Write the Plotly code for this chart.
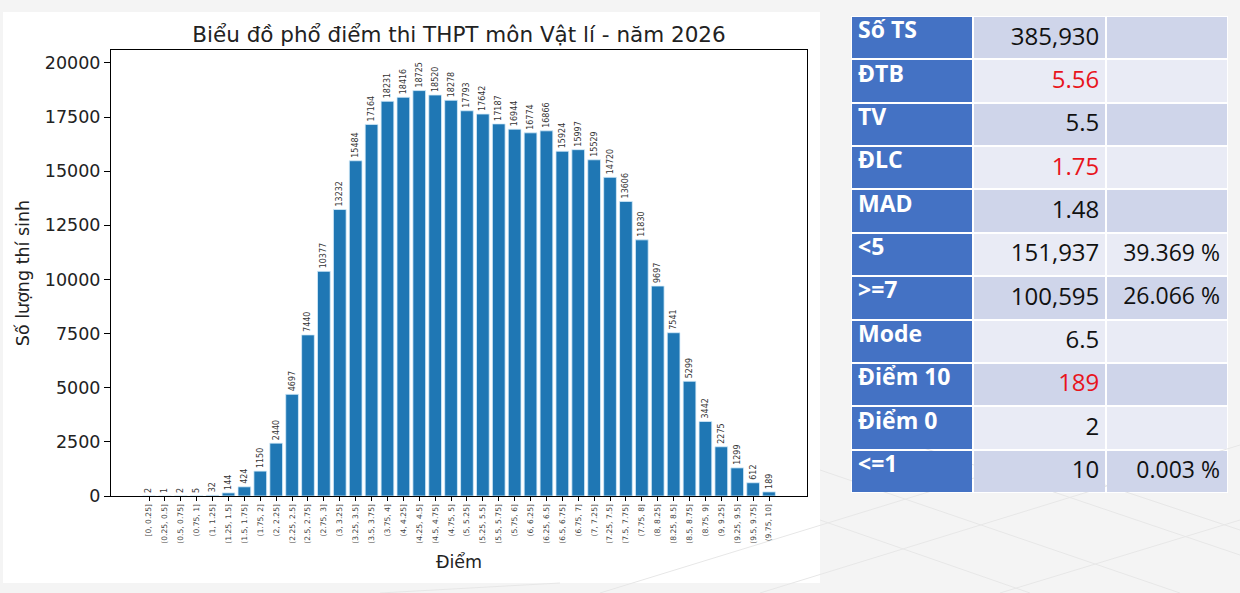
import plotly.graph_objects as go

# score bins (tick labels) and number of candidates per bin
bins = ["[0, 0.25]", "(0.25, 0.5]", "(0.5, 0.75]", "(0.75, 1]", "(1, 1.25]",
        "(1.25, 1.5]", "(1.5, 1.75]", "(1.75, 2]", "(2, 2.25]", "(2.25, 2.5]",
        "(2.5, 2.75]", "(2.75, 3]", "(3, 3.25]", "(3.25, 3.5]", "(3.5, 3.75]",
        "(3.75, 4]", "(4, 4.25]", "(4.25, 4.5]", "(4.5, 4.75]", "(4.75, 5]",
        "(5, 5.25]", "(5.25, 5.5]", "(5.5, 5.75]", "(5.75, 6]", "(6, 6.25]",
        "(6.25, 6.5]", "(6.5, 6.75]", "(6.75, 7]", "(7, 7.25]", "(7.25, 7.5]",
        "(7.5, 7.75]", "(7.75, 8]", "(8, 8.25]", "(8.25, 8.5]", "(8.5, 8.75]",
        "(8.75, 9]", "(9, 9.25]", "(9.25, 9.5]", "(9.5, 9.75]", "(9.75, 10]"]
counts = [2, 1, 2, 5, 32, 144, 424, 1150, 2440, 4697,
          7440, 10377, 13232, 15484, 17164, 18231, 18416, 18725, 18520, 18278,
          17793, 17642, 17187, 16944, 16774, 16866, 15924, 15997, 15529, 14720,
          13606, 11830, 9697, 7541, 5299, 3442, 2275, 1299, 612, 189]
y_ticks = [0, 2500, 5000, 7500, 10000, 12500, 15000, 17500, 20000]

# summary table
stat_names = ["Số TS", "ĐTB", "TV", "ĐLC", "MAD", "&lt;5", "&gt;=7", "Mode",
              "Điểm 10", "Điểm 0", "&lt;=1"]
stat_values = ["385,930", "5.56", "5.5", "1.75", "1.48", "151,937", "100,595",
               "6.5", "189", "2", "10"]
stat_pcts = ["", "", "", "", "", "39.369 %", "26.066 %", "", "", "", "0.003 %"]
red_rows = ["ĐTB", "ĐLC", "Điểm 10"]

W, H = 1240, 593
def px_x(v):
    return v / W
def px_y(v):
    return 1 - v / H

fig = go.Figure()

# histogram bars
fig.add_trace(go.Bar(
    x=list(range(len(bins))), y=counts, width=0.8,
    marker_color="#1f77b4", marker_line=dict(color="#d6ecfa", width=0.8),
    text=counts, textposition="outside", textangle=-90, cliponaxis=False,
    textfont=dict(size=8, color="#333333", family="DejaVu Sans"),
    constraintext="none", showlegend=False, hoverinfo="x+y",
))

# table: cell fills as a heatmap, text as scatter text
n = len(stat_names)
col_w = [121, 133, 121]
col_edges = [0, col_w[0], col_w[0] + col_w[1], sum(col_w)]
z = [[0, 1 + i % 2, 1 + i % 2] for i in range(n)]
fig.add_trace(go.Heatmap(
    x=col_edges, y=list(range(n + 1)), z=z, zmin=0, zmax=2,
    colorscale=[[0, "#4472c4"], [0.33, "#4472c4"], [0.33, "#cfd5ea"],
                [0.67, "#cfd5ea"], [0.67, "#e9ebf5"], [1, "#e9ebf5"]],
    showscale=False, xgap=2, ygap=2, hoverinfo="skip",
    xaxis="x2", yaxis="y2",
))
rows = list(range(n))
fig.add_trace(go.Scatter(
    x=[7] * n, y=[r + 0.38 for r in rows], text=stat_names,
    mode="text", textposition="middle right",
    textfont=dict(family="Open Sans", size=23, color="white", weight="bold"),
    xaxis="x2", yaxis="y2", showlegend=False, hoverinfo="skip",
))
fig.add_trace(go.Scatter(
    x=[col_edges[2] - 7] * n, y=[r + 0.52 for r in rows], text=stat_values,
    mode="text", textposition="middle left",
    textfont=dict(family="Open Sans", size=24,
                  color=["#e8141c" if s in red_rows else "#111111" for s in stat_names]),
    xaxis="x2", yaxis="y2", showlegend=False, hoverinfo="skip",
))
fig.add_trace(go.Scatter(
    x=[col_edges[3] - 8] * n, y=[r + 0.52 for r in rows], text=stat_pcts,
    mode="text", textposition="middle left",
    textfont=dict(family="Open Sans", size=23, color="#111111"),
    xaxis="x2", yaxis="y2", showlegend=False, hoverinfo="skip",
))

# white panel behind the chart
fig.add_shape(type="rect", xref="paper", yref="paper",
              x0=px_x(3), x1=px_x(820), y0=px_y(583), y1=px_y(12),
              fillcolor="white", line_width=0, layer="below")

# faint background grid pattern
for x0, y0, x1, y1 in [(600, 593, 1000, 470), (760, 593, 1240, 445), (1000, 593, 1240, 520),
                       (820, 470, 1180, 593), (900, 440, 1240, 555), (1060, 470, 1240, 530),
                       (380, 593, 560, 583), (820, 520, 1030, 593)]:
    fig.add_shape(type="line", xref="paper", yref="paper",
                  x0=px_x(x0), y0=px_y(y0), x1=px_x(x1), y1=px_y(y1),
                  line=dict(color="#e7e7e7", width=1), layer="below")

axis_common = dict(showline=True, linecolor="black", linewidth=1, mirror=True,
                   showgrid=False, zeroline=False, automargin=False,
                   ticks="outside", tickcolor="black")

fig.update_layout(
    width=W, height=H,
    margin=dict(l=0, r=0, t=0, b=0, pad=0, autoexpand=False),
    paper_bgcolor="#f4f4f4", plot_bgcolor="white",
    font=dict(family="DejaVu Sans", color="#222222"),
    bargap=0.2,
    title=dict(text="Biểu đồ phổ điểm thi THPT môn Vật lí - năm 2026",
               x=0.5 * (px_x(111) + px_x(807)), xanchor="center",
               y=px_y(34), yanchor="middle", font=dict(size=21.5, color="#222222")),
    xaxis=dict(
        domain=[px_x(111), px_x(807)], range=[-2.39, 41.39],
        tickmode="array", tickvals=list(range(len(bins))), ticktext=bins,
        tickangle=-90, tickfont=dict(size=7.6, color="#444444"), ticklen=4,
        title=dict(text="Điểm", font=dict(size=17.5), standoff=12),
        **axis_common,
    ),
    yaxis=dict(
        domain=[px_y(496), px_y(50)], range=[0, 20600],
        tickvals=y_ticks, tickformat="d", ticklen=6,
        tickfont=dict(size=17.5, color="#222222"),
        title=dict(text="Số lượng thí sinh", font=dict(size=17.5), standoff=10),
        **axis_common,
    ),
    xaxis2=dict(domain=[px_x(851), px_x(1228)], range=[0, sum(col_w)],
                visible=False, fixedrange=True),
    yaxis2=dict(domain=[px_y(493), px_y(16)], range=[n, 0],
                visible=False, fixedrange=True),
)

# page default body margin would offset the figure
fig.write_html("out.html", config={"displayModeBar": False},
               post_script="document.body.style.margin='0';")
